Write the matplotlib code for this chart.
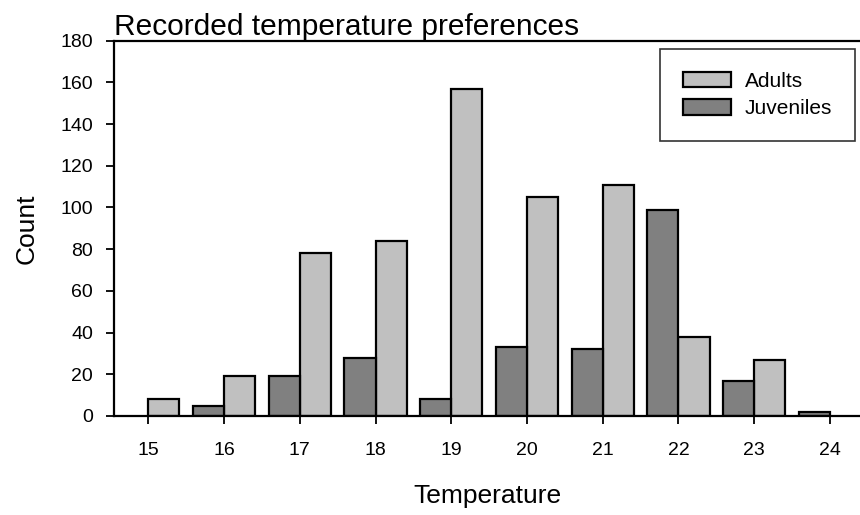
import matplotlib
matplotlib.use("Agg")
import matplotlib.pyplot as plt
import numpy as np

plt.rcParams['font.family'] = ['Liberation Sans', 'DejaVu Sans']

temperatures = [15, 16, 17, 18, 19, 20, 21, 22, 23, 24]
adults = [8, 19, 78, 84, 157, 105, 111, 38, 27, 0]
juveniles = [0, 5, 19, 28, 8, 33, 32, 99, 17, 2]
y_ticks = [0, 20, 40, 60, 80, 100, 120, 140, 160, 180]

W, H = 860, 515
fig = plt.figure(figsize=(W / 100, H / 100), dpi=100)
ax = fig.add_axes([114 / W, 1 - 416 / H, 1 - 114 / W, (416 - 40.7) / H])

x = np.array(temperatures, dtype=float)
w = 0.41
ax.bar([t for t, v in zip(x, adults) if v > 0], [v for v in adults if v > 0], width=w, align='edge',
       color='#c0c0c0', edgecolor='black', linewidth=1.6, label='Adults', zorder=2)
ax.bar([t - w for t, v in zip(x, juveniles) if v > 0], [v for v in juveniles if v > 0], width=w, align='edge',
       color='#808080', edgecolor='black', linewidth=1.6, label='Juveniles', zorder=2)

ax.set_xlim(14.547, 24.397)
ax.set_ylim(0, 180)
ax.set_xticks(temperatures)
ax.set_yticks(y_ticks)
ax.tick_params(axis='both', direction='out', length=6, width=1.3, labelsize=14)
ax.tick_params(axis='x', pad=13)
ax.tick_params(axis='y', pad=9)
for s in ['left', 'bottom', 'top']:
    ax.spines[s].set_linewidth(1.6)
ax.spines['right'].set_visible(False)
ax.spines['top'].set_zorder(3)

ax.set_xlabel('Temperature', fontsize=19, labelpad=18)
ax.set_ylabel('Count', fontsize=19, labelpad=16)
ax.set_title('Recorded temperature preferences', fontsize=21.5, loc='left', pad=3)

leg = ax.legend(loc='upper right', bbox_to_anchor=(855 / W, 1 - 49 / H), bbox_transform=fig.transFigure,
                fontsize=15, frameon=True, fancybox=False, edgecolor='black', borderpad=1.1,
                handlelength=2.3, handleheight=0.75, handletextpad=0.65, labelspacing=0.4,
                borderaxespad=0.0)
leg.get_frame().set_linewidth(1.2)
for p in leg.get_patches():
    p.set_linewidth(1.6)

fig.savefig('out.png', dpi=100)
